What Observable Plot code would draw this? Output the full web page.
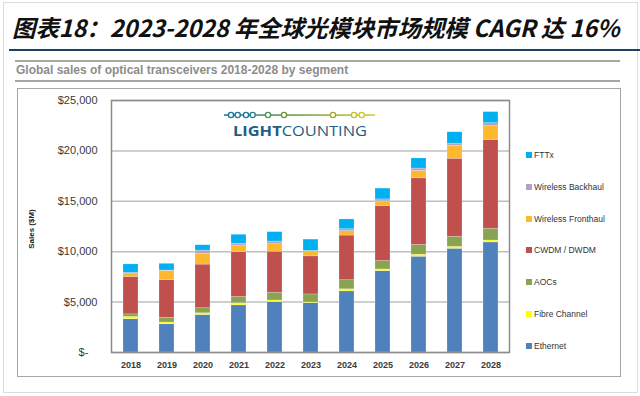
<!DOCTYPE html>
<html>
<head>
<meta charset="utf-8">
<script src="https://cdn.jsdelivr.net/npm/d3@7"></script>
<script src="https://cdn.jsdelivr.net/npm/@observablehq/plot@0.6"></script>
<style>
  html, body { margin: 0; padding: 0; background: #fff; }
  #page { position: relative; width: 640px; height: 396px; overflow: hidden; background: #fff; font-family: "Liberation Sans", Arial, sans-serif; }
  .abs { position: absolute; }
  #title { left: 12px; top: 13px; font-family: "Noto Sans CJK SC", sans-serif; font-style: italic; font-weight: bold; font-size: 23.5px; line-height: 28px; color: #111; white-space: nowrap; letter-spacing: -0.1px; }
  #subtitle { left: 16px; top: 63px; font-size: 12px; font-weight: bold; color: #8c8c8c; line-height: 15px; white-space: nowrap; }
  .legend-item { position: absolute; left: 526px; font-size: 8.5px; color: #333; line-height: 10px; white-space: nowrap; }
  .legend-item span.sw { display: inline-block; width: 6px; height: 6px; margin-right: 2px; vertical-align: 0px; }
  #ylabel { left: 31px; top: 229px; transform: translate(-50%, -50%) rotate(-90deg); font-size: 8px; font-weight: bold; color: #222; white-space: nowrap; }
</style>
</head>
<body>
<div id="page">
  <div class="abs" style="left:3px;top:2px;width:633px;height:389px;border:1px solid #dcdcdc;"></div>
  <div id="title" class="abs">图表18：2023-2028 年全球光模块市场规模 CAGR 达 16%</div>
  <div class="abs" style="left:9px;top:49px;width:631px;height:2px;background:#1f3f66;"></div>
  <div class="abs" style="left:15px;top:60px;width:605px;height:1.5px;background:#a6a6a6;"></div>
  <div id="subtitle" class="abs">Global sales of optical transceivers 2018-2028 by segment</div>
  <div class="abs" style="left:15px;top:80px;width:605px;height:1.5px;background:#a6a6a6;"></div>
  <div class="abs" style="left:17px;top:88px;width:602px;height:287px;border:1.5px solid #a6a6a6;"></div>
  <div id="chart" class="abs" style="left:0;top:88px;"></div>
  <svg class="abs" style="left:222px;top:106px;" width="160" height="34">
    <defs>
      <linearGradient id="lg" gradientUnits="userSpaceOnUse" x1="2" y1="0" x2="153" y2="0">
        <stop offset="0" stop-color="#1d7797"/>
        <stop offset="0.45" stop-color="#5f9a45"/>
        <stop offset="1" stop-color="#d1c633"/>
      </linearGradient>
    </defs>
    <rect x="2" y="8.3" width="151" height="1.5" fill="url(#lg)"/>
    <g fill="#fff" stroke-width="1.4">
      <circle cx="9" cy="9" r="2.6" stroke="#1d7797"/>
      <circle cx="15.7" cy="9" r="2.6" stroke="#1d7797"/>
      <circle cx="24" cy="9" r="2.6" stroke="#1d7797"/>
      <circle cx="30.7" cy="9" r="2.6" stroke="#2f8288"/>
      <circle cx="46" cy="9" r="2.6" stroke="#4f9160"/>
      <circle cx="62" cy="9" r="2.6" stroke="#6a9a3e"/>
      <circle cx="111" cy="9" r="2.6" stroke="#9aaa35"/>
      <circle cx="132" cy="9" r="2.6" stroke="#c2bf33"/>
      <circle cx="139.7" cy="9" r="2.6" stroke="#d1c633"/>
    </g>
    <text x="11" y="30" textLength="134" lengthAdjust="spacingAndGlyphs" font-family="Open Sans, sans-serif" font-size="15" fill="#235d85"><tspan font-weight="bold">LIGHT</tspan><tspan>COUNTING</tspan></text>
  </svg>
  <div id="ylabel" class="abs">Sales ($M)</div>
  <div id="legend"></div>
</div>
<script>
const years = ["2018","2019","2020","2021","2022","2023","2024","2025","2026","2027","2028"];
const segments = ["Ethernet","Fibre Channel","AOCs","CWDM / DWDM","Wireless Fronthaul","Wireless Backhaul","FTTx"];
const segmentColors = ["#4f81bd","#ffff00","#8aa352","#c0504d","#fdb82e","#b3a2c7","#00b0f0"];

const ethernet     = [3300, 2800, 3720, 4680, 5010, 4900, 6070, 8070, 9500, 10290, 10920];
const fibreChannel = [ 230,  170,  170,  200,  150,   60,  200,  170,  200,   190,   190];
const aocs         = [ 250,  470,  500,  630,  770,  800,  900,  830,  980,  1000,  1170];
const cwdmDwdm     = [3720, 3730, 4330, 4440, 4070, 3780, 4430, 5450, 6600,  7740,  8800];
const fronthaul    = [ 350,  930, 1060,  660,  740,  500,  430,  470,  730,  1260,  1370];
const backhaul     = [  40,   30,  330,  170,  260,   30,  200,  200,  240,   240,   300];
const fttx         = [ 850,  670,  530,  900,  940, 1130,  970, 1070, 1000,  1130,  1100];

const yTicks = [0, 5000, 10000, 15000, 20000, 25000];

const seriesValues = [ethernet, fibreChannel, aocs, cwdmDwdm, fronthaul, backhaul, fttx];
const rows = [];
segments.forEach((s, i) => {
  years.forEach((y, j) => rows.push({year: y, segment: s, value: seriesValues[i][j]}));
});

const fmt = d3.format(",");
const chart = Plot.plot({
  width: 640,
  height: 288,
  marginTop: 12,
  marginBottom: 24,
  marginLeft: 111,
  marginRight: 131,
  style: { fontFamily: "Liberation Sans, Arial, sans-serif", fontSize: "11px", color: "#3a3a3a", background: "transparent" },
  x: { type: "band", domain: years, paddingInner: 0.59, paddingOuter: 0.29, label: null },
  y: { domain: [0, 25000], label: null },
  color: { domain: segments, range: segmentColors },
  marks: [
    Plot.gridY(yTicks, { stroke: "#bfbfbf", strokeOpacity: 1, strokeWidth: 1.5 }),
    Plot.barY(rows, { x: "year", y: "value", fill: "segment", stroke: "#ffffff", strokeOpacity: 0.35, strokeWidth: 0.6 }),
    Plot.frame({ stroke: "#8c8c8c", strokeWidth: 1.5 }),
    Plot.axisY(yTicks, { tickSize: 0, tickPadding: 14, fontSize: 11, tickFormat: v => v === 0 ? "$-\u00a0\u00a0\u00a0" : "$" + fmt(v), label: null }),
    Plot.axisX({ tickSize: 0, tickPadding: 9, fontSize: 9, fontWeight: "bold", label: null })
  ]
});
document.getElementById("chart").appendChild(chart);

const legend = document.getElementById("legend");
const legendOrder = segments.slice().reverse();
legendOrder.forEach((s, i) => {
  const div = document.createElement("div");
  div.className = "legend-item";
  div.style.top = (150 + i * 31.8) + "px";
  const sw = document.createElement("span");
  sw.className = "sw";
  sw.style.background = segmentColors[segments.indexOf(s)];
  div.appendChild(sw);
  div.appendChild(document.createTextNode(s));
  legend.appendChild(div);
});
</script>
</body>
</html>
